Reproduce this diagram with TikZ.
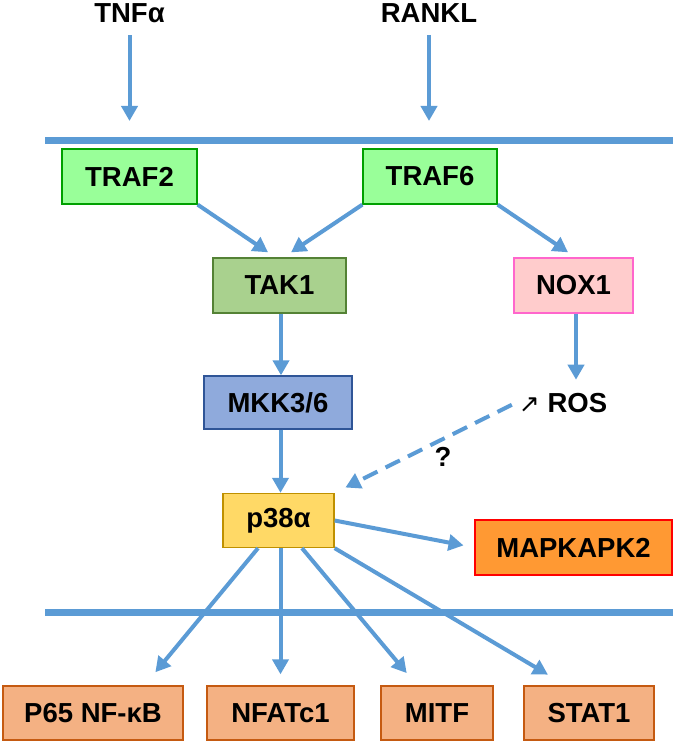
\documentclass[tikz,border=0pt]{standalone}
\usepackage{fontspec}
\usepackage{xcolor}
\setmainfont{Liberation Sans}
\newfontfamily\symfont{DejaVu Sans}
\usetikzlibrary{shapes.geometric, arrows.meta}
\definecolor{pathblue}{HTML}{5B9BD5}
\definecolor{traffill}{HTML}{99FF99}
\definecolor{trafline}{HTML}{00A000}
\definecolor{takfill}{HTML}{A9D18E}
\definecolor{takline}{HTML}{548235}
\definecolor{noxfill}{HTML}{FFCCCC}
\definecolor{noxline}{HTML}{FF66CC}
\definecolor{mkkfill}{HTML}{8FAADC}
\definecolor{mkkline}{HTML}{2F5597}
\definecolor{pfill}{HTML}{FFD966}
\definecolor{pline}{HTML}{BF9000}
\definecolor{mapkfill}{HTML}{FF9933}
\definecolor{mapkline}{HTML}{FF0000}
\definecolor{tfill}{HTML}{F4B183}
\definecolor{tline}{HTML}{C55A11}
\tikzstyle{ligand} = [font=\bfseries\fontsize{27.5}{32}\selectfont]
\tikzstyle{box} = [rectangle, minimum height=55pt, text centered, line width=1.3pt, font=\bfseries\fontsize{27.5}{32}\selectfont]
\tikzstyle{adaptor} = [box, minimum width=135pt, draw=trafline, fill=traffill]
\tikzstyle{kinase} = [box, minimum width=133pt, draw=takline, fill=takfill]
\tikzstyle{oxidase} = [box, minimum width=119pt, draw=noxline, fill=noxfill]
\tikzstyle{mapkk} = [box, minimum width=148pt, minimum height=53pt, draw=mkkline, fill=mkkfill]
\tikzstyle{mapk} = [box, minimum width=111pt, minimum height=54pt, draw=pline, fill=pfill]
\tikzstyle{substrate} = [box, minimum width=197pt, draw=mapkline, fill=mapkfill]
\tikzstyle{factor} = [box, minimum height=54pt, draw=tline, fill=tfill]
\tikzstyle{arrow} = [line width=4pt, draw=pathblue, -{Triangle[length=15pt,width=16pt]}]
\tikzstyle{membrane} = [line width=7pt, draw=pathblue]

\begin{document}
\begin{tikzpicture}[x=1pt, y=-1pt]
    \useasboundingbox (0,0) rectangle (675,743);
    % ligands and membranes
    \node (tnf) [ligand] at (129.5,13) {TNFα};
    \node (rankl) [ligand] at (429,13) {RANKL};
    \coordinate (tnfin) at (129.5,121);
    \coordinate (ranklin) at (429,121);
    \draw [membrane] (45,141) -- (673,141);
    \draw [membrane] (45,612) -- (673,612);

    \node (traf2) [adaptor] at (129.5,176.5) {TRAF2};
    \node (traf6) [adaptor, minimum width=134pt] at (430,176.5) {TRAF6};
    \node (tak1) [kinase] at (279.5,285.5) {TAK1};
    \node (nox1) [oxidase] at (573.5,285.5) {NOX1};
    \node (mkk) [mapkk] at (278,402.5) {MKK3/6};
    \node (ros) [ligand] at (563,403) {{\symfont\mdseries\fontsize{25}{30}\selectfont ↗} ROS};
    \node (q) [ligand] at (443,457) {?};
    \node (p38) [mapk] at (278.5,520.5) {p38α};
    \node (mapkapk2) [substrate] at (573.5,547.5) {MAPKAPK2};
    \node (p65) [factor, minimum width=180pt] at (93,713) {P65 NF-κB};
    \node (nfat) [factor, minimum width=147pt] at (280.5,713) {NFATc1};
    \node (mitf) [factor, minimum width=112pt] at (437,713) {MITF};
    \node (stat1) [factor, minimum width=130pt] at (589,713) {STAT1};

    \draw [arrow, shorten <=9pt] (tnf) -- (tnfin);
    \draw [arrow, shorten <=9pt] (rankl) -- (ranklin);
    \draw [arrow, shorten >=9pt] (traf2.south east) -- ([xshift=-4pt]tak1.north);
    \draw [arrow, shorten >=9pt] (traf6.south west) -- ([xshift=4pt]tak1.north);
    \draw [arrow, shorten >=9pt] (traf6.south east) -- ([xshift=2pt]nox1.north);
    \draw [arrow] ([xshift=1.5pt]tak1.south) -- ([xshift=1.5pt]tak1.south |- mkk.north);
    \draw [arrow] ([xshift=2.5pt]mkk.south) -- ([xshift=2.5pt]mkk.south |- p38.north);
    \draw [arrow, shorten >=10pt] ([xshift=2.5pt]nox1.south) -- ([xshift=2.5pt]nox1.south |- ros.north);
    \draw [arrow, dashed, dash pattern=on 16pt off 9pt, shorten <=4pt, shorten >=12pt] (ros.west) -- (p38.north east);
    \draw [arrow, shorten >=11pt] (p38.east) -- (mapkapk2.west);
    \draw [arrow, shorten >=17pt] ([xshift=-20.5pt]p38.south) -- ([xshift=51.5pt]p65.north);
    \draw [arrow, shorten >=11pt] ([xshift=2pt]p38.south) -- (nfat.north);
    \draw [arrow, shorten >=16pt] ([xshift=23.5pt]p38.south) -- ([xshift=-20pt]mitf.north);
    \draw [arrow, shorten >=21pt] (p38.south east) -- ([xshift=-23pt]stat1.north);
\end{tikzpicture}
\end{document}
